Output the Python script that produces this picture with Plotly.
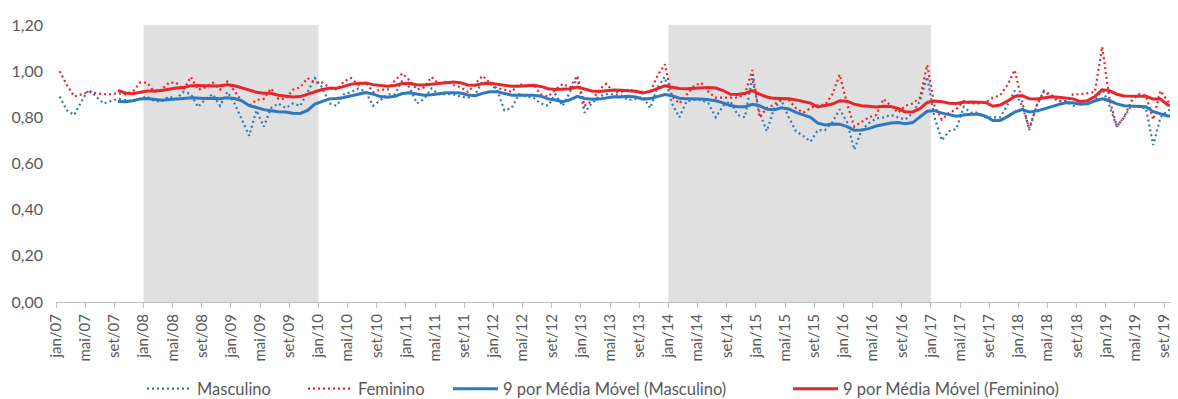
import numpy as np
import pandas as pd
import plotly.graph_objects as go

# Monthly values, jan/07 onward
masculino = [
    0.89, 0.83, 0.81, 0.87, 0.92, 0.89, 0.86, 0.87, 0.88, 0.875, 0.87, 0.88,      # 2007
    0.89, 0.87, 0.87, 0.89, 0.88, 0.91, 0.90, 0.845, 0.88, 0.90, 0.85, 0.91,      # 2008
    0.86, 0.79, 0.72, 0.83, 0.76, 0.84, 0.86, 0.84, 0.86, 0.85, 0.91, 0.97,       # 2009
    0.93, 0.86, 0.85, 0.90, 0.91, 0.925, 0.91, 0.85, 0.875, 0.90, 0.90, 0.96,     # 2010
    0.93, 0.86, 0.88, 0.925, 0.90, 0.90, 0.90, 0.89, 0.885, 0.90, 0.955, 0.945,   # 2011
    0.92, 0.83, 0.84, 0.90, 0.89, 0.885, 0.86, 0.85, 0.90, 0.85, 0.91, 0.97,      # 2012
    0.82, 0.86, 0.89, 0.90, 0.90, 0.895, 0.875, 0.88, 0.89, 0.84, 0.93, 0.975,    # 2013
    0.86, 0.80, 0.87, 0.875, 0.875, 0.86, 0.80, 0.85, 0.87, 0.81, 0.80, 0.97,     # 2014
    0.82, 0.74, 0.84, 0.875, 0.80, 0.74, 0.72, 0.695, 0.745, 0.745, 0.78, 0.835,  # 2015
    0.78, 0.66, 0.745, 0.775, 0.795, 0.80, 0.81, 0.80, 0.79, 0.82, 0.87, 0.975,   # 2016
    0.80, 0.70, 0.74, 0.75, 0.845, 0.82, 0.82, 0.80, 0.80, 0.80, 0.853, 0.915,    # 2017
    0.85, 0.754, 0.85, 0.915, 0.89, 0.87, 0.87, 0.85, 0.86, 0.87, 0.87, 0.925,    # 2018
    0.85, 0.76, 0.80, 0.85, 0.845, 0.84, 0.68, 0.80, 0.83, 0.84, 0.80,            # 2019
]
feminino = [
    1.00, 0.94, 0.89, 0.90, 0.91, 0.905, 0.90, 0.90, 0.905, 0.90, 0.91, 0.95,     # 2007
    0.95, 0.91, 0.92, 0.95, 0.95, 0.92, 0.975, 0.92, 0.93, 0.95, 0.92, 0.955,     # 2008
    0.91, 0.87, 0.85, 0.875, 0.88, 0.925, 0.88, 0.88, 0.92, 0.93, 0.97, 0.95,     # 2009
    0.95, 0.93, 0.92, 0.955, 0.97, 0.94, 0.95, 0.91, 0.92, 0.92, 0.96, 0.99,      # 2010
    0.96, 0.92, 0.93, 0.975, 0.945, 0.955, 0.94, 0.93, 0.91, 0.945, 0.98, 0.95,   # 2011
    0.925, 0.92, 0.91, 0.945, 0.935, 0.94, 0.90, 0.89, 0.92, 0.945, 0.93, 0.98,   # 2012
    0.85, 0.87, 0.92, 0.945, 0.91, 0.91, 0.92, 0.915, 0.91, 0.91, 0.98, 1.03,     # 2013
    0.89, 0.86, 0.90, 0.935, 0.95, 0.91, 0.885, 0.885, 0.885, 0.885, 0.90, 1.005, # 2014
    0.80, 0.84, 0.855, 0.88, 0.875, 0.84, 0.82, 0.84, 0.853, 0.855, 0.90, 0.985,  # 2015
    0.86, 0.76, 0.78, 0.80, 0.81, 0.88, 0.85, 0.82, 0.85, 0.86, 0.885, 1.027,     # 2016
    0.85, 0.79, 0.82, 0.835, 0.87, 0.86, 0.86, 0.865, 0.885, 0.895, 0.94, 1.005,  # 2017
    0.87, 0.745, 0.85, 0.91, 0.90, 0.87, 0.87, 0.90, 0.90, 0.905, 0.91, 1.106,    # 2018
    0.88, 0.76, 0.80, 0.87, 0.90, 0.895, 0.79, 0.915, 0.87, 0.85, 0.87,           # 2019
]

meses = ["jan", "mai", "set"]
anos = list(range(7, 20))
tick_labels = [f"{m}/{a:02d}" for a in anos for m in meses]
tick_month_idx = [(a - 7) * 12 + k * 4 for a in anos for k in range(3)]

# shaded periods (month index boundaries): jan/08 - jan/10, jan/14 - jan/17
periodos = [(12, 36), (84, 120)]

n = len(masculino)
x = np.arange(n) + 0.5
ma_masc = pd.Series(masculino).rolling(9).mean()
ma_fem = pd.Series(feminino).rolling(9).mean()

BLUE = "#2E78BE"
RED = "#E8252B"
GRAY_TXT = "#595959"
FONT = "Lato, Liberation Sans, sans-serif"

fig = go.Figure()
fig.add_trace(go.Scatter(x=x, y=masculino, mode="lines", name="Masculino", legend="legend",
                         line=dict(color=BLUE, width=2.2, dash="2px,3px")))
fig.add_trace(go.Scatter(x=x, y=feminino, mode="lines", name="Feminino", legend="legend2",
                         line=dict(color=RED, width=2.2, dash="2px,3px")))
fig.add_trace(go.Scatter(x=x, y=ma_masc, mode="lines", name="9 por Média Móvel (Masculino)",
                         legend="legend3", line=dict(color=BLUE, width=3)))
fig.add_trace(go.Scatter(x=x, y=ma_fem, mode="lines", name="9 por Média Móvel (Feminino)",
                         legend="legend4", line=dict(color=RED, width=3)))

for a, b in periodos:
    fig.add_shape(type="rect", xref="x", yref="y", x0=a, x1=b, y0=0, y1=1.2,
                  fillcolor="#E0E0E0", line=dict(width=0), layer="below")

# the page body has an 8px margin; the figure is sized/offset to compensate
OFF = 8
L_PAGE, W = 56, 1122
def leg(px):
    return dict(orientation="h", x=(px - L_PAGE) / W, xanchor="left", y=-0.314, yanchor="middle",
                font=dict(family=FONT, size=16.5, color=GRAY_TXT), itemwidth=45,
                bgcolor="rgba(0,0,0,0)", borderwidth=0)

fig.update_layout(
    width=1178 - OFF, height=399 - OFF,
    margin=dict(l=L_PAGE - OFF, r=0, t=25 - OFF, b=97, autoexpand=False),
    plot_bgcolor="white", paper_bgcolor="white",
    separators=",.",
    font=dict(family=FONT, color=GRAY_TXT, size=15),
    showlegend=True,
    legend=leg(142), legend2=leg(303), legend3=leg(448), legend4=leg(788),
    xaxis=dict(range=[0, 153.9], tickvals=tick_month_idx, ticktext=tick_labels,
               tickangle=-90, showgrid=False, zeroline=False, showline=True,
               linecolor="#BFBFBF", linewidth=1, ticks="outside", ticklen=5,
               tickcolor="#BFBFBF", tickfont=dict(family=FONT, size=15, color=GRAY_TXT),
               automargin=False),
    yaxis=dict(range=[0, 1.2], tickvals=[0, 0.2, 0.4, 0.6, 0.8, 1.0, 1.2],
               tickformat=".2f", showgrid=False, zeroline=False, showline=False,
               ticklabelstandoff=12, tickfont=dict(family=FONT, size=16, color=GRAY_TXT),
               automargin=False),
)

fig.write_html("out.html")
